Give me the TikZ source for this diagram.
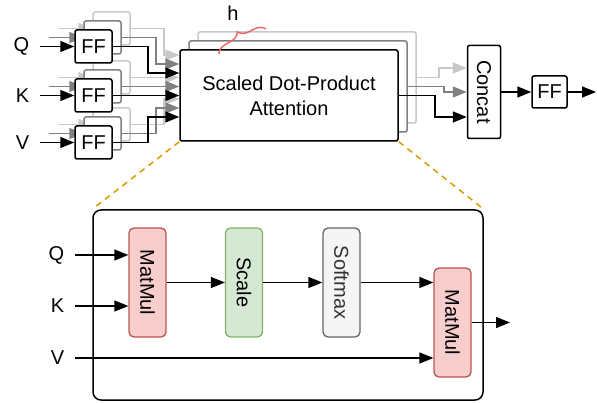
\documentclass[tikz,border=0pt]{standalone}
\usepackage{fontspec}
\setmainfont{Liberation Sans}
\usetikzlibrary{arrows.meta,decorations.pathreplacing}
\definecolor{lgray}{HTML}{C8C8C8}
\definecolor{mgray}{HTML}{808080}
\definecolor{mmfill}{HTML}{F8CECC}
\definecolor{mmdraw}{HTML}{B85450}
\definecolor{scfill}{HTML}{D5E8D4}
\definecolor{scdraw}{HTML}{82B366}
\definecolor{smfill}{HTML}{F5F5F5}
\definecolor{smdraw}{HTML}{666666}
\definecolor{smtext}{HTML}{333333}
\definecolor{bred}{HTML}{EA6B66}
\definecolor{zoomline}{HTML}{D79B00}
\begin{document}
\begin{tikzpicture}[%
    x=1pt, y=-1pt, line width=1.5pt,
    >={Triangle[length=14pt, width=11pt]},
    font=\fontsize{20}{25}\selectfont,
    box/.style={draw, fill=white, rounded corners=2pt, inner sep=0pt},
    ff/.style={box, minimum width=37pt, minimum height=33pt},
    op/.style={draw, rounded corners=5pt, inner sep=0pt, line width=1.3pt,
      minimum width=37pt, minimum height=109pt},
    lbl/.style={anchor=east, inner xsep=10pt}]
  \useasboundingbox (0,0) rectangle (597,403);

  % multi-head part
  \node[box, minimum width=33pt, minimum height=93pt] (concat) at (484,92) {\rotatebox{-90}{Concat}};
  \node[ff, minimum width=35pt, minimum height=32pt] (ffo) at (549.5,92) {FF};
  \coordinate (out) at (596,92);
  \draw[->] (concat) -- (ffo);
  \draw[->] (ffo) -- (out);

  \foreach \k/\col/\dx/\ty in {2/lgray/22/24, 1/mgray/36/0, 0/black/36/-25} {
    \begin{scope}[color=\col]
      \node[box, minimum width=218pt, minimum height=91pt, align=center] (att\k)
        at (289+9*\k, 95.5-9*\k) {\ifnum\k=0 Scaled Dot-Product\\Attention\fi};
      \draw[->] (att\k.east) -- ++(\dx,0) |- ([yshift=\ty pt]concat.west);
      \foreach \nm/\cy/\dy in {q/46.5/22.5, k/95.5/0, v/142.5/-21.5} {
        \node[ff] (ff\nm\k) at (93.5+9*\k, \cy-9*\k) {\ifnum\k=0 FF\fi};
        \coordinate (in\nm\k) at (40+9*\k, \cy-9*\k);
        \draw[->] (in\nm\k) -- (ff\nm\k);
        \draw[->] (ff\nm\k.east) -- ++(35-\k,0) |- ([xshift=-9*\k pt, yshift=\dy pt]att\k.west);
      }
    \end{scope}
  }
  \node[lbl] (lq) at (inq0) {Q};
  \node[lbl] (lk) at (ink0) {K};
  \node[lbl] (lv) at (inv0) {V};

  % h heads
  \coordinate (hb) at (219,54);
  \coordinate (ht) at (266,29);
  \draw[bred, line width=1.5pt, decorate, decoration={brace, amplitude=11pt}] (hb) -- (ht);
  \node (h) at (233,13) {h};

  % scaled dot-product attention
  \node[draw, rounded corners=8pt, minimum width=390pt, minimum height=190pt] (sdpa) at (288,305) {};
  \draw[zoomline, dash pattern=on 6pt off 5pt] (att0.south west) -- (sdpa.north west);
  \draw[zoomline, dash pattern=on 6pt off 5pt] (att0.south east) -- (sdpa.north east);

  \node[lbl] (bq) at (75,255) {Q};
  \node[lbl] (bk) at (75,306) {K};
  \node[lbl] (bv) at (75,358) {V};
  \node[op, fill=mmfill, draw=mmdraw] (mm1) at (147.5,282.5) {\rotatebox{-90}{MatMul}};
  \node[op, fill=scfill, draw=scdraw] (scale) at (244,282.5) {\rotatebox{-90}{Scale}};
  \node[op, fill=smfill, draw=smdraw, text=smtext] (smax) at (341.5,282.5) {\rotatebox{-90}{Softmax}};
  \node[op, fill=mmfill, draw=mmdraw] (mm2) at (452.5,322.5) {\rotatebox{-90}{MatMul}};
  \coordinate (res) at (510,322.5);

  \begin{scope}[line width=1.3pt]
    \draw[->] (bq.east) -- (bq.east -| mm1.west);
    \draw[->] (bk.east) -- (bk.east -| mm1.west);
    \draw[->] (bv.east) -- (bv.east -| mm2.west);
    \draw[->] (mm1) -- (scale);
    \draw[->] (scale) -- (smax);
    \draw[->] (smax.east) -- (smax.east -| mm2.west);
    \draw[->] (mm2) -- (res);
  \end{scope}
\end{tikzpicture}
\end{document}
